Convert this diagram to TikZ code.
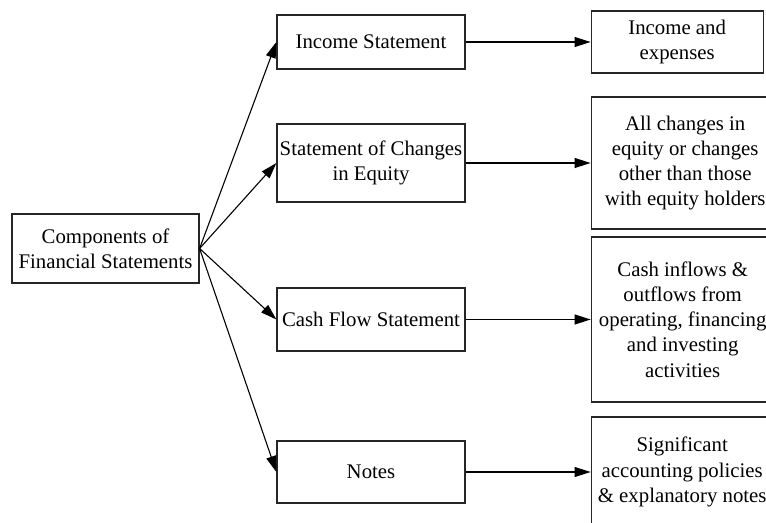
\documentclass[tikz,border=0pt]{standalone}
\usepackage{fontspec}
\setmainfont{Liberation Serif}
\usetikzlibrary{arrows.meta, positioning}
\tikzset{
  box/.style = {
    draw=black!85, align=center, line width=0.6pt, inner sep=1pt, fill=white,
    font=\fontsize{10.4}{12.6}\selectfont
  },
  midbox/.style = {box, minimum width=94pt},
  arrow/.style = {-{Triangle[length=8pt, width=5pt]}, line width=0.55pt},
}

\begin{document}
\begin{tikzpicture}
    \clip (0,0) rectangle (383pt,-261.5pt);

    % Root box on the left
    \node[box, minimum width=93.5pt, minimum height=34.5pt] (comp) at (52.75pt,-124.25pt) {Components of\\Financial Statements};

    % Column of components
    \node[midbox, minimum height=27pt] (income) at (185.5pt,-21pt) {Income Statement};
    \node[midbox, minimum height=39pt] (soce) at (185.5pt,-81.5pt) {Statement of Changes\\in Equity};
    \node[midbox, minimum height=31.5pt] (cashflow) at (185.5pt,-159.75pt) {Cash Flow Statement};
    \node[midbox, minimum height=31pt] (notes) at (185.5pt,-236pt) {Notes};

    % Descriptions (cut at the right edge)
    \node[box, right=62.5pt of income, minimum width=86pt, minimum height=31pt] (incdesc) {Income and\\expenses};
    \node[box, right=62.5pt of soce, minimum width=94pt, minimum height=66pt] (socedesc) {All changes in\\equity or changes\\other than those\\with equity holders};
    \node[box, right=62.5pt of cashflow, minimum width=91.5pt, minimum height=82.5pt] (cfdesc) {Cash inflows \&\\outflows from\\operating, financing\\and investing\\activities};
    \node[box, right=62.5pt of notes, minimum width=91pt, minimum height=55pt] (notesdesc) {Significant\\accounting policies\\\& explanatory notes};

    % Arrows
    \foreach \n in {income, soce, cashflow, notes}
      \draw[arrow] (comp.east) -- (\n.west);
    \draw[arrow] (income.east) -- (incdesc.west);
    \draw[arrow] (soce.east) -- (socedesc.west);
    \draw[arrow] (cashflow.east) -- (cfdesc.west);
    \draw[arrow] (notes.east) -- (notesdesc.west);
\end{tikzpicture}
\end{document}
